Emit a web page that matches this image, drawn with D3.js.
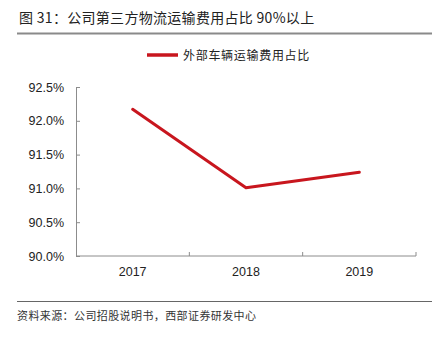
<!DOCTYPE html>
<html>
<head>
<meta charset="utf-8">
<script src="https://cdn.jsdelivr.net/npm/d3@7"></script>
<style>
  html, body { margin: 0; padding: 0; background: #fff; }
  svg { display: block; }
</style>
</head>
<body>
<svg id="chart" width="439" height="338"></svg>
<script>
// Share of external vehicle transport cost, by year
const years = ["2017", "2018", "2019"];
const shareValues = [92.17, 91.01, 91.24];
const yTicks = [90.0, 90.5, 91.0, 91.5, 92.0, 92.5];
const titleText = "图 31：公司第三方物流运输费用占比 90%以上";
const legendText = "外部车辆运输费用占比";
const sourceText = "资料来源：公司招股说明书，西部证券研发中心";

const svg = d3.select("#chart");
const plot = { left: 76, right: 416, top: 87, bottom: 256 };
const red = "#c8161e";
const axisGray = "#8c8c8c";
const cjk = "'Noto Sans CJK SC', sans-serif";
const latin = "'Liberation Sans', Arial, sans-serif";

// Title and rule
svg.append("text")
  .attr("x", 19).attr("y", 23)
  .attr("font-family", cjk).attr("font-size", 14)
  .attr("letter-spacing", 0.3)
  .attr("fill", "#222")
  .text(titleText);
svg.append("line")
  .attr("x1", 17).attr("x2", 432).attr("y1", 33.5).attr("y2", 33.5)
  .attr("stroke", "#8a8a8a").attr("stroke-width", 2);

// Legend
svg.append("line")
  .attr("x1", 147).attr("x2", 178).attr("y1", 55).attr("y2", 55)
  .attr("stroke", red).attr("stroke-width", 3.5);
svg.append("text")
  .attr("x", 183).attr("y", 59.5)
  .attr("font-family", cjk).attr("font-size", 12)
  .attr("letter-spacing", 0.7)
  .attr("fill", "#222")
  .text(legendText);

// Scales
const x = d3.scaleBand().domain(years).range([plot.left, plot.right]).padding(0);
const y = d3.scaleLinear().domain([90, 92.5]).range([plot.bottom, plot.top]);

// Y axis
const yAxis = d3.axisLeft(y)
  .tickValues(yTicks)
  .tickSize(-4)
  .tickPadding(12)
  .tickFormat(d => d.toFixed(1) + "%");
const gy = svg.append("g").attr("transform", `translate(${plot.left},0)`).call(yAxis);
gy.select(".domain").attr("stroke", axisGray);
gy.selectAll(".tick line").attr("stroke", axisGray);
gy.selectAll(".tick text")
  .attr("font-family", latin).attr("font-size", 12.5).attr("fill", "#222");

// X axis with ticks at band boundaries
const gx = svg.append("g").attr("transform", `translate(0,${plot.bottom})`);
gx.append("line")
  .attr("x1", plot.left).attr("x2", plot.right)
  .attr("stroke", axisGray);
const bounds = years.map(d => x(d)).concat([x(years[years.length - 1]) + x.bandwidth()]);
gx.selectAll("line.tk").data(bounds.slice(1)).join("line")
  .attr("class", "tk")
  .attr("x1", d => d).attr("x2", d => d)
  .attr("y1", 0).attr("y2", -4)
  .attr("stroke", axisGray);
gx.selectAll("text").data(years).join("text")
  .attr("x", d => x(d) + x.bandwidth() / 2)
  .attr("y", 20)
  .attr("text-anchor", "middle")
  .attr("font-family", latin).attr("font-size", 12.5).attr("fill", "#222")
  .text(d => d);

// Line series
const line = d3.line()
  .x((d, i) => x(years[i]) + x.bandwidth() / 2)
  .y(d => y(d));
svg.append("path")
  .datum(shareValues)
  .attr("d", line)
  .attr("fill", "none")
  .attr("stroke", red)
  .attr("stroke-width", 3)
  .attr("stroke-linecap", "round")
  .attr("stroke-linejoin", "round");

// Source footer
svg.append("line")
  .attr("x1", 17).attr("x2", 432).attr("y1", 301.5).attr("y2", 301.5)
  .attr("stroke", "#666").attr("stroke-width", 1);
svg.append("text")
  .attr("x", 17).attr("y", 320)
  .attr("font-family", cjk).attr("font-size", 11)
  .attr("letter-spacing", 0.4)
  .attr("fill", "#333")
  .text(sourceText);
</script>
</body>
</html>
